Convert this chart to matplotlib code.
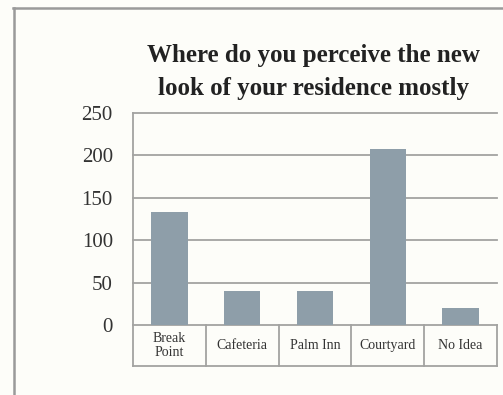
import matplotlib
matplotlib.use("Agg")
import matplotlib.pyplot as plt
from matplotlib.lines import Line2D
from matplotlib.transforms import blended_transform_factory

categories = ["Break\nPoint", "Cafeteria", "Palm Inn", "Courtyard", "No Idea"]
counts = [133, 40, 40, 207, 20]
y_ticks = [0, 50, 100, 150, 200, 250]
title = "Where do you perceive the new\nlook of your residence mostly"

W, H = 503, 395
bg = "#fdfdf9"
bar_color = "#8e9ea9"
grid_color = "#a3a3a1"
serif = ["Liberation Serif", "DejaVu Serif"]

fig = plt.figure(figsize=(W / 100, H / 100), dpi=100, facecolor=bg)

# outer frame (left and top edges)
fig.add_artist(Line2D([13.5 / W, 13.5 / W], [0, 1 - 8 / H], color="#9a9a9a", lw=1.8,
                      transform=fig.transFigure))
fig.add_artist(Line2D([13 / W, 1], [1 - 8 / H, 1 - 8 / H], color="#9a9a9a", lw=1.8,
                      transform=fig.transFigure))

left, right, top, zero = 133, 497, 113, 325
ax = fig.add_axes([left / W, (H - zero) / H, (right - left) / W, (zero - top) / H])
ax.set_facecolor(bg)

x = range(len(categories))
ax.bar(x, counts, width=0.5, color=bar_color, zorder=3)

ax.set_xlim(-0.5, len(categories) - 0.5)
ax.set_ylim(0, 250)
ax.set_yticks(y_ticks)
ax.set_yticklabels([str(v) for v in y_ticks], fontfamily=serif, fontsize=15, color="#333333")
ax.tick_params(axis="y", length=0, pad=14.5)
ax.set_xticks([])
for v in y_ticks:
    ax.axhline(v, color=grid_color, lw=1.3, zorder=1, clip_on=False)

for s in ["top", "right", "bottom"]:
    ax.spines[s].set_visible(False)
ax.spines["left"].set_color(grid_color)
ax.spines["left"].set_linewidth(1.3)

# category table below the axis
table_h = 41 / (zero - top)
tr = blended_transform_factory(ax.transData, ax.transAxes)
for b in [i - 0.5 for i in range(len(categories) + 1)]:
    ax.add_line(Line2D([b, b], [0, -table_h], color=grid_color, lw=1.3,
                       transform=tr, clip_on=False))
ax.add_line(Line2D([-0.5, len(categories) - 0.5], [-table_h, -table_h], color=grid_color,
                   lw=1.3, transform=tr, clip_on=False))
for i, name in enumerate(categories):
    ax.text(i, -table_h / 2, name, transform=tr, ha="center", va="center",
            fontfamily=serif, fontsize=10, color="#333333", linespacing=1.1)

fig.text(313 / W, 1 - 72 / H, title, ha="center", va="center", fontfamily=serif,
         fontweight="bold", fontsize=18, color="#222222", linespacing=1.52)

fig.savefig("out.png", dpi=100, facecolor=bg)
